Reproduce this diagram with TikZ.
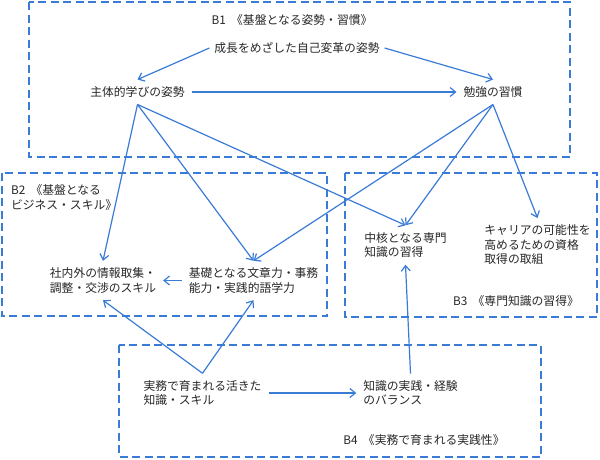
\documentclass[tikz,border=0pt]{standalone}
\usepackage{fontspec}
\setmainfont{Noto Sans CJK JP}
\usepackage{xcolor}
\usepackage{tikz}
\usetikzlibrary{arrows.meta}
\definecolor{lineblue}{RGB}{58,123,213}
\definecolor{textgray}{RGB}{38,38,38}

\begin{document}
\begin{tikzpicture}[x=1pt,y=-1pt,
    grp/.style={draw=lineblue,line width=2pt,dash pattern=on 8pt off 4.5pt},
    item/.style={inner sep=0pt,outer sep=7pt,align=left,text=textgray,
        font=\fontsize{11.8}{14.5}\selectfont},
    tag/.style={item,outer sep=0pt},
    link/.style={draw=lineblue,line width=1.2pt,-{Straight Barb[length=5.5pt,width=9pt]}}]
\useasboundingbox (0,0) rectangle (600,459);

    \draw[grp] (29,2) rectangle (570,157);
    \draw[grp] (2,173) rectangle (327,316);
    \draw[grp] (345,173) rectangle (597,317);
    \draw[grp] (119,345) rectangle (541,457);

    \node[tag] (b1) at (292,20) {B1\ \ 《基盤となる姿勢・習慣》};
    \node[tag,anchor=west] (b2) at (11,197.5) {B2\ \ 《基盤となる\\ビジネス・スキル》};
    \node[tag] (b3) at (516,301) {B3\ \ 《専門知識の習得》};
    \node[tag] (b4) at (424,440) {B4\ \ 《実務で育まれる実践性》};

    \node[item,outer sep=5pt] (seicho) at (297,48) {成長をめざした自己変革の姿勢};
    \node[item] (shutai) at (137.5,92) {主体的学びの姿勢};
    \node[item] (benkyo) at (493,92) {勉強の習慣};
    \node[item] (shagai) at (103,280.5) {社内外の情報取集・\\調整・交渉のスキル};
    \node[item] (kiso) at (253.5,280.5) {基礎となる文章力・事務\\能力・実践的語学力};
    \node[item] (chukaku) at (405.5,245) {中核となる専門\\知識の習得};
    \node[item] (career) at (537.5,245) {キャリアの可能性を\\高めるための資格\\取得の取組};
    \node[item] (jitsumu) at (202.5,393) {実務で育まれる活きた\\知識・スキル};
    \node[item] (jissen) at (410.5,393) {知識の実践・経験\\のバランス};

    \draw[link] (seicho.west) -- (shutai.north);
    \draw[link] (seicho.east) -- (benkyo.north);
    \draw[link] (shutai.east) -- (benkyo.west);
    \draw[link] (shutai.south) -- (shagai.north);
    \draw[link] (shutai.south) -- (kiso.north);
    \draw[link] (shutai.south) -- (chukaku.north);
    \draw[link] (benkyo.south) -- (kiso.north);
    \draw[link] (benkyo.south) -- (chukaku.north);
    \draw[link] (benkyo.south) -- (career.north);
    \draw[link] (kiso.west) -- (shagai.east);
    \draw[link] (jitsumu.north) -- (shagai.south);
    \draw[link] (jitsumu.north) -- (kiso.south);
    \draw[link] (jitsumu.east) -- (jissen.west);
    \draw[link] (jissen.north) -- (chukaku.south);

\end{tikzpicture}
\end{document}
